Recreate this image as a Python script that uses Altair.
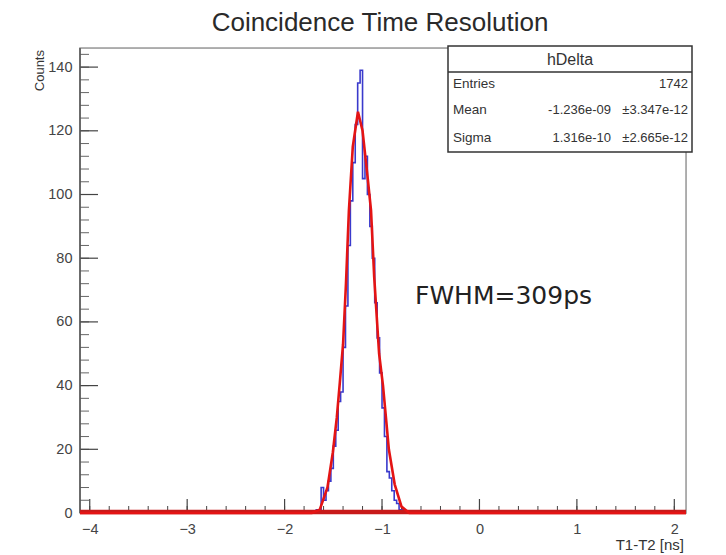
import altair as alt
import pandas as pd

# ---------------- data ----------------
# histogram bin left edges (ns) and counts (bin width 0.025 ns)
bin_left = [-1.700, -1.675, -1.650, -1.625, -1.600, -1.575, -1.550, -1.525, -1.500, -1.475,
            -1.450, -1.425, -1.400, -1.375, -1.350, -1.325, -1.300, -1.275, -1.250, -1.225,
            -1.200, -1.175, -1.150, -1.125, -1.100, -1.075, -1.050, -1.025, -1.000, -0.975,
            -0.950, -0.925, -0.900, -0.875, -0.850, -0.825, -0.800, -0.775]
counts = [0, 1, 0, 8, 4, 7, 10, 14, 21, 26,
          35, 38, 52, 65, 84, 98, 110, 122, 135, 139,
          105, 112, 100, 90, 80, 66, 55, 44, 33, 24,
          13, 11, 7, 4, 3, 1, 1, 0]
x_min, x_max = -4.1, 2.12
y_max = 146

# Gaussian fit curve
fit_x = [-4.10, -1.72, -1.64, -1.56, -1.505, -1.464, -1.433, -1.40, -1.37, -1.34, -1.30,
         -1.247, -1.20, -1.15, -1.113, -1.08, -1.03, -0.99, -0.96, -0.93, -0.87, -0.80, -0.72, 2.12]
fit_y = [0, 0, 1, 8, 19, 30, 41, 53, 72, 95, 115,
         126, 120, 106, 95, 74, 50, 40, 30, 20, 9, 2, 0, 0]

x_major = [-4, -3, -2, -1, 0, 1, 2]
x_minor = [round(-4.0 + 0.2 * i, 2) for i in range(31)]
y_major = [0, 20, 40, 60, 80, 100, 120, 140]
y_minor = [4 * i for i in range(37)]

stats_rows = ["Entries", "Mean", "Sigma"]
stats_val = ["", "-1.236e-09", "1.316e-10"]
stats_err = ["1742", "\u00b13.347e-12", "\u00b12.665e-12"]

W, H = 606, 465

# step line table
hx = [x_min] + bin_left + [x_max]
hy = [0] + counts + [0]
hist = pd.DataFrame({"x": hx, "y": hy})
fit = pd.DataFrame({"x": fit_x, "y": fit_y})

xs = alt.Scale(domain=[x_min, x_max], nice=False, zero=False)
ys = alt.Scale(domain=[0, y_max], nice=False)
FONT = "Liberation Sans"

frame = alt.Chart(pd.DataFrame({"a": [0]})).mark_rect(
    fill=None, stroke="#9a9a9a", strokeWidth=1.5
).encode(x=alt.value(0), x2=alt.value(W), y=alt.value(0), y2=alt.value(H))

left_line = alt.Chart(pd.DataFrame({"a": [0]})).mark_rule(color="#555555", strokeWidth=1.5).encode(
    x=alt.value(0), y=alt.value(0), y2=alt.value(H))

base_axes = alt.Chart(pd.DataFrame({"x": [0.0], "y": [0.0]})).mark_point(opacity=0).encode(
    x=alt.X("x:Q", scale=xs, axis=alt.Axis(values=x_major, format="d", title=None, domain=False,
                                           ticks=False, grid=False, labelFontSize=14.5, labelFont=FONT,
                                           labelColor="#444444", labelPadding=9)),
    y=alt.Y("y:Q", scale=ys, axis=alt.Axis(values=y_major, format="d", title=None, domain=False,
                                           ticks=False, grid=False, labelFontSize=14.5, labelFont=FONT,
                                           labelColor="#444444", labelPadding=8)),
)

xmaj = alt.Chart(pd.DataFrame({"x": x_major})).mark_rule(color="#444444", strokeWidth=1.2).encode(
    x=alt.X("x:Q", scale=xs), y=alt.value(H), y2=alt.value(H - 14))
xmin_ = alt.Chart(pd.DataFrame({"x": x_minor})).mark_rule(color="#444444", strokeWidth=1).encode(
    x=alt.X("x:Q", scale=xs), y=alt.value(H), y2=alt.value(H - 7))
ymaj = alt.Chart(pd.DataFrame({"y": y_major})).mark_rule(color="#444444", strokeWidth=1.2).encode(
    y=alt.Y("y:Q", scale=ys), x=alt.value(0), x2=alt.value(18))
ymin_ = alt.Chart(pd.DataFrame({"y": y_minor})).mark_rule(color="#666666", strokeWidth=1).encode(
    y=alt.Y("y:Q", scale=ys), x=alt.value(0), x2=alt.value(9))

hist_line = alt.Chart(hist).mark_line(interpolate="step-after", color="#3a3acc", strokeWidth=1.6).encode(
    x=alt.X("x:Q", scale=xs), y=alt.Y("y:Q", scale=ys))

fit_line = alt.Chart(fit).mark_line(color="#e41414", strokeWidth=2.6).encode(
    x=alt.X("x:Q", scale=xs), y=alt.Y("y:Q", scale=ys))

bottom_red = alt.Chart(pd.DataFrame({"a": [0]})).mark_rule(color="#c81a1a", strokeWidth=4.5).encode(
    x=alt.value(0), x2=alt.value(W), y=alt.value(H - 1))

def txt(s, x, y, size=14, align="left", font=FONT, color="#333333", angle=0, baseline="middle"):
    kw = dict(align=align, baseline=baseline, fontSize=size, font=font, color=color, text=s)
    if angle:
        kw["angle"] = angle
    return alt.Chart(pd.DataFrame({"a": [0]})).mark_text(**kw).encode(x=alt.value(x), y=alt.value(y))

# stats box
box = alt.Chart(pd.DataFrame({"a": [0]})).mark_rect(
    fill="white", stroke="#333333", strokeWidth=1.5
).encode(x=alt.value(368), x2=alt.value(612), y=alt.value(-2), y2=alt.value(104))
box_line = alt.Chart(pd.DataFrame({"a": [0]})).mark_rule(color="#333333", strokeWidth=1.5).encode(
    x=alt.value(368), x2=alt.value(612), y=alt.value(24))

layers = [frame, base_axes, ymin_, ymaj, xmin_, xmaj, left_line, hist_line, bottom_red, fit_line,
          box, box_line,
          txt("hDelta", 490, 12, size=16, align="center"),
          txt("Coincidence Time Resolution", 300, -25, size=26, align="center", color="#2a2a2a"),
          txt("Counts", -40, 2, size=13, align="right", angle=270),
          txt("T1-T2 [ns]", 604, 497, size=15, align="right"),
          txt("FWHM=309ps", 335, 248, size=25, font="DejaVu Sans", color="#222222")]
row_y = [36, 62, 90]
for i, r in enumerate(stats_rows):
    layers.append(txt(r, 373, row_y[i], size=13.5))
    if stats_val[i]:
        layers.append(txt(stats_val[i], 531, row_y[i], size=13, align="right"))
    layers.append(txt(stats_err[i], 608, row_y[i], size=13, align="right"))

chart = alt.layer(*layers).properties(
    width=W, height=H,
    autosize=alt.AutoSizeParams(type="none"),
    padding={"left": 80, "top": 48, "right": 40, "bottom": 42},
).configure_view(stroke=None).configure(background="white")

chart.save("out.html", embed_options={"renderer": "svg", "actions": False})
